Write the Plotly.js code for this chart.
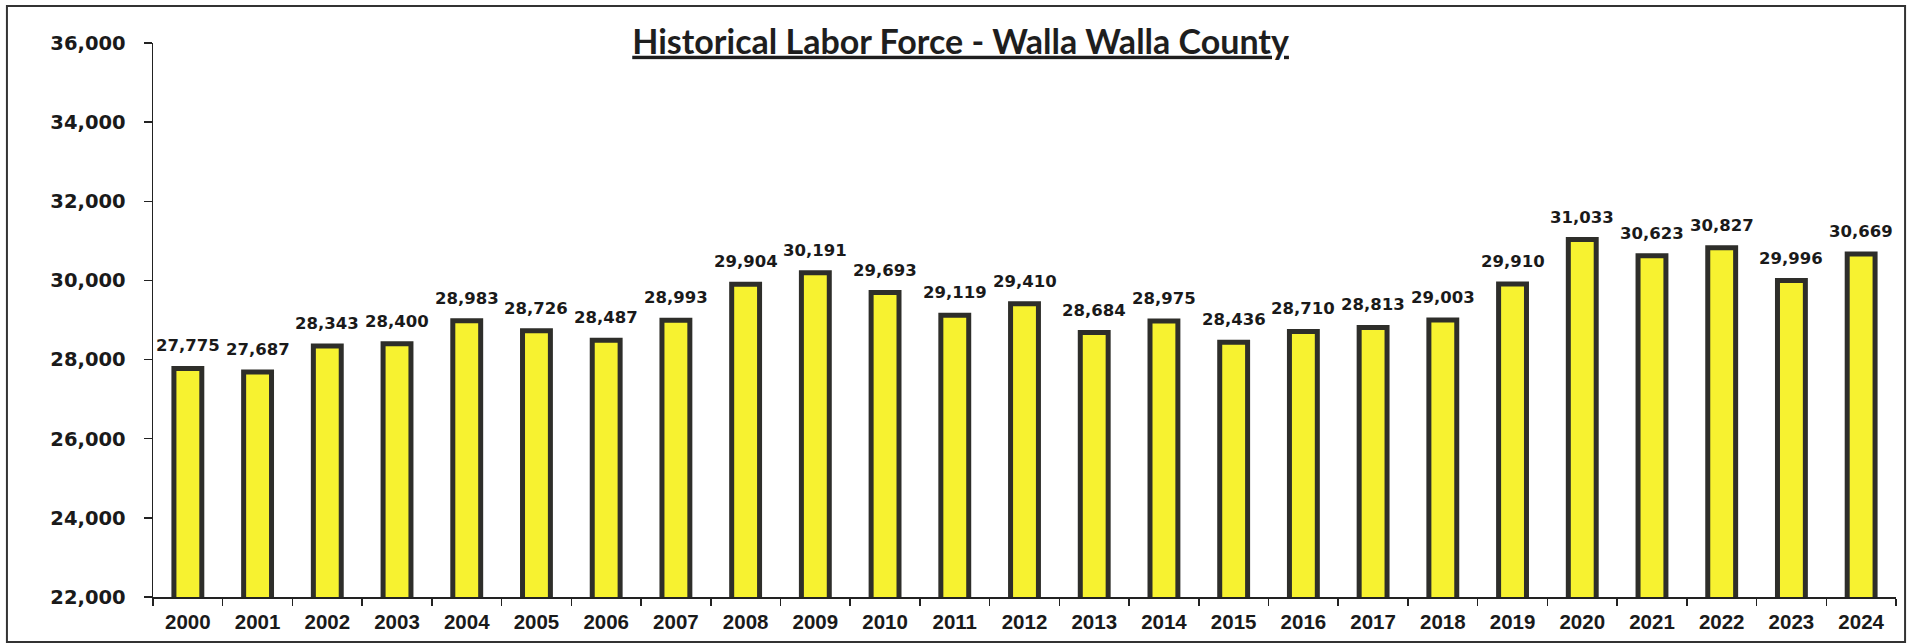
<!DOCTYPE html>
<html>
<head>
<meta charset="utf-8">
<script src="https://cdn.plot.ly/plotly-3.0.1.min.js"></script>
<style>
  html, body { margin: 0; padding: 0; background: #ffffff; }
  #chart { width: 1912px; height: 644px; }
</style>
</head>
<body>
<div id="chart"></div>
<script>
const years = ['2000','2001','2002','2003','2004','2005','2006','2007','2008','2009','2010','2011','2012','2013','2014','2015','2016','2017','2018','2019','2020','2021','2022','2023','2024'];
const laborForce = [27775, 27687, 28343, 28400, 28983, 28726, 28487, 28993, 29904, 30191, 29693, 29119, 29410, 28684, 28975, 28436, 28710, 28813, 29003, 29910, 31033, 30623, 30827, 29996, 30669];
const yTicks = [22000, 24000, 26000, 28000, 30000, 32000, 34000, 36000];
const titleText = 'Historical Labor Force - Walla Walla County';

const fmt = v => v.toLocaleString('en-US');

const trace = {
  type: 'bar',
  x: years,
  y: laborForce,
  width: 0.40,
  marker: { color: '#f7f230', line: { color: '#2e2e2a', width: 5 } },
  hoverinfo: 'x+y'
};

const annotations = years.map((yr, i) => ({
  x: i, y: laborForce[i], xref: 'x', yref: 'y',
  text: fmt(laborForce[i]), showarrow: false,
  yanchor: 'bottom', yshift: 11,
  font: { family: 'DejaVu Sans', size: 16.5, color: '#1a1a1a', weight: 'bold' }
}));

const layout = {
  width: 1912, height: 644,
  margin: { l: 153, r: 16, t: 43, b: 47 },
  paper_bgcolor: '#ffffff', plot_bgcolor: '#ffffff',
  showlegend: false,
  title: {
    text: '<b>' + titleText + '</b>',
    xref: 'container', x: 0.5024, xanchor: 'center',
    yref: 'container', y: 0.935, yanchor: 'middle',
    font: { family: 'Lato', size: 34, color: '#1e1e1e', lineposition: 'under' }
  },
  xaxis: {
    type: 'category',
    categoryorder: 'array', categoryarray: years,
    range: [-0.5, years.length - 0.5],
    showline: true, linecolor: '#222', linewidth: 1.5,
    ticks: 'outside', tickson: 'boundaries', ticklen: 7, tickwidth: 1.5, tickcolor: '#222',
    tickfont: { family: 'Liberation Sans', size: 20.5, color: '#1a1a1a', weight: 'bold' },
    tickangle: 0,
    ticklabelstandoff: 6,
    showgrid: false, zeroline: false, fixedrange: true
  },
  yaxis: {
    range: [22000, 36000],
    tickvals: yTicks,
    ticktext: yTicks.map(fmt),
    showline: true, linecolor: '#222', linewidth: 1.5,
    ticks: 'outside', ticklen: 8, tickwidth: 1.5, tickcolor: '#222',
    tickfont: { family: 'DejaVu Sans', size: 19.5, color: '#1a1a1a', weight: 'bold' },
    ticklabelstandoff: 14,
    showgrid: false, zeroline: false, fixedrange: true
  },
  shapes: [{
    type: 'rect', xref: 'paper', yref: 'paper',
    x0: -0.0838, x1: 1.0052, y0: -0.0812, y1: 1.0668,
    line: { color: '#333', width: 2 }, fillcolor: 'rgba(0,0,0,0)', layer: 'below'
  }],
  annotations: annotations
};

Plotly.newPlot('chart', [trace], layout, { displayModeBar: false, staticPlot: true });
</script>
</body>
</html>
